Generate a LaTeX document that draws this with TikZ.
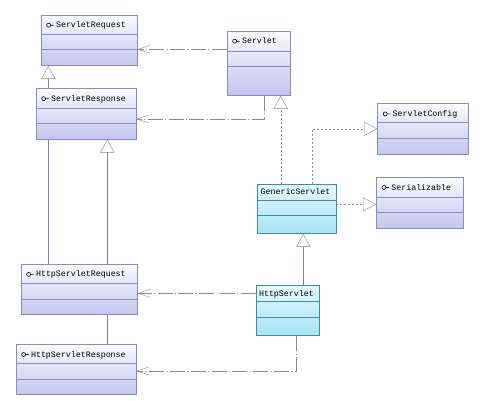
\documentclass[tikz,border=0pt]{standalone}
\usepackage{fontspec}
\setmonofont{Liberation Mono}
\usetikzlibrary{shapes.multipart,arrows.meta}
\setlength{\parindent}{0pt}
\definecolor{ifaceline}{HTML}{8C8CB8}
\definecolor{ifacetop}{HTML}{FAFAFF}
\definecolor{ifacebot}{HTML}{C4C4F0}
\definecolor{clsline}{HTML}{3A8FA8}
\definecolor{clstop}{HTML}{E6FAFF}
\definecolor{clsbot}{HTML}{A6E2F4}
\definecolor{linecol}{HTML}{8080A8}
\definecolor{dotcol}{HTML}{8C8C8C}
\newcommand{\umlbox}[5]{#1\rule[-#2]{0pt}{#3}\nodepart{two}\rule{0pt}{#4}\nodepart{three}\rule{0pt}{#5}}
\begin{document}
\begin{tikzpicture}[x=1pt,y=-1pt,
	iface/.style={rectangle split, rectangle split parts=3, draw=ifaceline, line width=0.7pt, top color=ifacetop, bottom color=ifacebot, anchor=north west, inner xsep=3pt, inner ysep=0pt, align=left, font=\ttfamily\fontsize{8.3}{10}\selectfont},
	cls/.style={iface, draw=clsline, top color=clstop, bottom color=clsbot},
	dep/.style={draw=dotcol, dash pattern=on 15pt off 2.5pt on 0.8pt off 2.5pt, -{Straight Barb[length=12pt,width=8pt]}},
	real/.style={draw=linecol, -{Triangle[open,length=13pt,width=14pt]}},
	realdot/.style={real, draw=dotcol, dash pattern=on 2pt off 2pt},
	link/.style={draw=linecol},
	icon/.style={draw=black, line width=0.6pt}]
		\useasboundingbox (0,0) rectangle (484,400);
		\node[iface, text width=90pt] (sreq) at (40.7,15) {\umlbox{\hspace*{12pt}ServletRequest}{6pt}{18pt}{15pt}{15pt}};
		\node[iface, text width=57.3pt] (servlet) at (226.7,31) {\umlbox{\hspace*{12pt}Servlet}{7pt}{19pt}{15pt}{28pt}};
		\node[iface, text width=94pt] (sresp) at (35.7,88) {\umlbox{\hspace*{12pt}ServletResponse}{6.5pt}{19pt}{15pt}{14.7pt}};
		\node[iface, text width=84.4pt] (sconf) at (377.3,103.3) {\umlbox{\hspace*{12pt}ServletConfig}{6pt}{18.4pt}{15pt}{15pt}};
		\node[iface, text width=80.7pt] (serial) at (376,177.3) {\umlbox{\hspace*{12pt}Serializable}{6.5pt}{18.5pt}{14.7pt}{15pt}};
		\node[cls, text width=72.4pt] (gen) at (257.3,184) {\umlbox{GenericServlet}{5pt}{15pt}{15pt}{17pt}};
		\node[iface, text width=110pt] (hreq) at (20.7,264.3) {\umlbox{\hspace*{12pt}HttpServletRequest}{6.5pt}{18.4pt}{14.6pt}{15pt}};
		\node[iface, text width=114pt] (hresp) at (15.7,344.3) {\umlbox{\hspace*{12pt}HttpServletResponse}{6pt}{18pt}{15pt}{15pt}};
		\node[cls, text width=57.6pt] (http) at (255.7,285.3) {\umlbox{HttpServlet}{5pt}{15.4pt}{15pt}{17.6pt}};
		\foreach \n in {sreq,servlet,sresp,sconf,serial,hreq,hresp}
			\draw[icon] ([xshift=4.6pt,yshift=2.5pt]\n.text) circle[radius=2pt] ++(2pt,0) -- ++(3pt,0);
		\draw[real] (48.3,0 |- sresp.north) -- (48.3,0 |- sreq.south);
		\draw[dep] (servlet.west |- 0,49.3) -- (sreq.east |- 0,49.3);
		\draw[dep] (264.3,0 |- servlet.south) |- (sresp.east |- 0,119);
		\draw[realdot] (280.7,0 |- gen.north) -- (280.7,0 |- servlet.south);
		\draw[realdot] (312.3,0 |- gen.north) |- (sconf.west);
		\draw[realdot] (gen.east |- 0,204.3) -- (serial.west |- 0,204.3);
		\draw[real] (303.3,0 |- http.north) -- (303.3,0 |- gen.south);
		\draw[dep] (http.west |- 0,293.3) -- (hreq.east |- 0,293.3);
		\draw[dep] (295.7,0 |- http.south) |- (hresp.east |- 0,371);
		\draw[real] (107.3,0 |- hreq.north) -- (107.3,0 |- sresp.south);
		\draw[link] (48.3,0 |- hreq.north) -- (48.3,0 |- sresp.south);
		\draw[link] (107.3,0 |- hreq.south) -- (107.3,0 |- hresp.north);
	\end{tikzpicture}
\end{document}
